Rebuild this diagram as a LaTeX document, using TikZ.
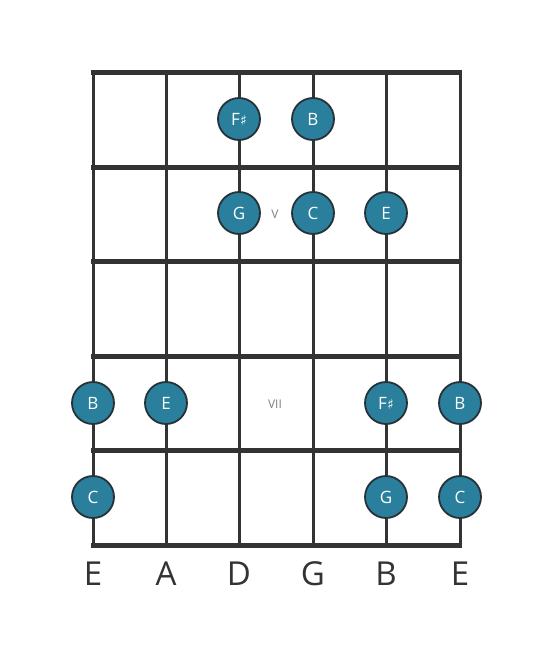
\documentclass[tikz,border=0pt]{standalone}
\usepackage{fontspec}
\setmainfont{Open Sans}
\newfontfamily\symfont{DejaVu Sans}
\newcommand{\shp}{{\symfont\fontsize{14}{14}\selectfont ♯}}
\definecolor{dotfill}{HTML}{2A7F9C}
\definecolor{ink}{HTML}{333333}
\definecolor{dotline}{HTML}{263238}
\begin{document}
\begin{tikzpicture}[x=1pt,y=-1pt,
  stringline/.style={draw=ink,line width=3pt},
  fretline/.style={draw=ink,line width=5pt},
  notedot/.style={circle,fill=dotfill,draw=dotline,line width=1.8pt,minimum size=42pt,inner sep=0pt,text=white,font=\fontsize{17}{17}\selectfont},
  posmark/.style={text=gray,font=\fontsize{12}{12}\selectfont},
  strname/.style={text=ink,font=\fontsize{33}{33}\selectfont}]
\useasboundingbox (0,0) rectangle (553,656);
% strings
\foreach \x/\n in {93/s1,166/s2,239/s3,313/s4,386/s5,460/s6}{
  \coordinate (\n top) at (\x,72);
  \coordinate (\n bot) at (\x,545);
  \draw[stringline] (\n top) -- (\n bot);
}
% frets
\foreach \y/\n in {72/f0,167/f1,261/f2,356/f3,450/f4,545/f5}{
  \coordinate (\n l) at (91,\y);
  \coordinate (\n r) at (462,\y);
  \draw[fretline] (\n l) -- (\n r);
}
% position marks
\node[posmark] (pv) at (275,214) {V};
\node[posmark] (pvii) at (275,404) {VII};
% notes
\node[notedot] (n1) at (239,119) {F\shp};
\node[notedot] (n2) at (313,119) {B};
\node[notedot] (n3) at (239,213) {G};
\node[notedot] (n4) at (313,213) {C};
\node[notedot] (n5) at (386,213) {E};
\node[notedot] (n6) at (93,403) {B};
\node[notedot] (n7) at (166,403) {E};
\node[notedot] (n8) at (386,403) {F\shp};
\node[notedot] (n9) at (460,403) {B};
\node[notedot] (n10) at (93,497) {C};
\node[notedot] (n11) at (386,497) {G};
\node[notedot] (n12) at (460,497) {C};
% string names
\foreach \x/\t/\n in {93/E/l1,166/A/l2,239/D/l3,313/G/l4,386/B/l5,460/E/l6}{
  \node[strname] (\n) at (\x,574) {\t};
}
\end{tikzpicture}
\end{document}
